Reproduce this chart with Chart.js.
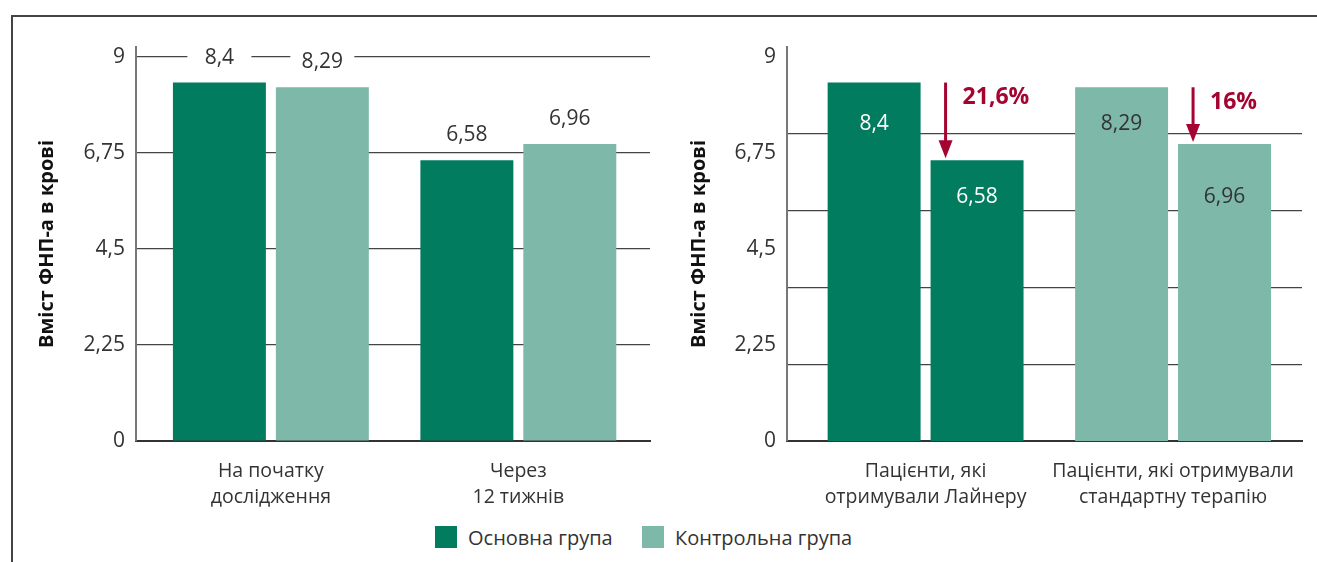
<!DOCTYPE html>
<html>
<head>
<meta charset="utf-8">
<script src="https://cdn.jsdelivr.net/npm/chart.js@4.4.1/dist/chart.umd.min.js"></script>
<style>
  body { margin: 0; background: #fff; width: 1317px; height: 562px; overflow: hidden; position: relative; font-family: "Open Sans", sans-serif; }
  #frame { position: absolute; left: 11px; top: 15px; right: 0; bottom: 0; border-top: 2px solid #444; border-left: 2px solid #444; }
  .box { position: absolute; top: 0; height: 520px; }
  #leftBox { left: 0; width: 660px; }
  #rightBox { left: 660px; width: 657px; }
  .leg { position: absolute; top: 526px; height: 22px; display: flex; align-items: center; font-size: 20px; color: #333; }
  .leg span.sw { width: 22px; height: 22px; margin-right: 11px; display: inline-block; }
</style>
</head>
<body>
<div id="frame"></div>
<div class="box" id="leftBox"><canvas id="leftChart" width="660" height="520"></canvas></div>
<div class="box" id="rightBox"><canvas id="rightChart" width="657" height="520"></canvas></div>
<div class="leg" style="left:435px"><span class="sw" style="background:#017c5f"></span>Основна група</div>
<div class="leg" style="left:642px"><span class="sw" style="background:#7db8a9"></span>Контрольна група</div>
<script>
// Data
const leftCategories = [["На початку", "дослідження"], ["Через", "12 тижнів"]];
const mainGroup = [8.4, 6.58];
const controlGroup = [8.29, 6.96];

const rightCategories = [["Пацієнти, які", "отримували Лайнеру"], ["Пацієнти, які отримували", "стандартну терапію"]];
const beforeValues = [8.4, 8.29];
const afterValues = [6.58, 6.96];
const reductions = ["21,6%", "16%"];

const yTicks = [0, 2.25, 4.5, 6.75, 9];
const axisTitle = "Вміст ФНП-а в крові";

const DARK = "#017c5f";
const LIGHT = "#7db8a9";
const RED = "#a50330";
const FONT = '"Open Sans", sans-serif';
const Y_TOP = 9.234; // axis line runs a little above the top tick

const fmt = (v) => String(v).replace(".", ",");

function yAxis(width, titlePad, showGrid) {
  return {
    min: 0,
    max: Y_TOP,
    afterBuildTicks: (s) => { s.ticks = yTicks.map((v) => ({ value: v })); },
    ticks: { color: "#333", font: { family: FONT, size: 21 }, padding: 11, callback: (v) => fmt(v) },
    grid: { display: showGrid, color: "#444", lineWidth: 1.2, drawTicks: false },
    border: { color: "#777", width: 2 },
    title: { display: true, text: axisTitle, color: "#111", font: { family: FONT, size: 20, weight: "bold" }, padding: { top: titlePad, bottom: 0 } },
    afterFit: (s) => { s.width = width; },
  };
}

// categories sit a bit inside the axis line: start offset and width in category units
function xAxis(startValue, valueRange) {
  return {
    grid: { display: false },
    border: { color: "#333", width: 2 },
    ticks: { color: "#333", font: { family: FONT, size: 19.5, lineHeight: 1.3 }, padding: 10, maxRotation: 0, autoSkip: false },
    afterBuildTicks: (s) => { s._startValue = startValue; s._valueRange = valueRange; },
    afterFit: (s) => { s.height = 79; },
  };
}

// value labels above bars, on white so the gridline is cut
const labelsAbove = {
  id: "labelsAbove",
  afterDatasetsDraw(chart) {
    const ctx = chart.ctx;
    ctx.save();
    ctx.font = "21px " + FONT;
    ctx.textAlign = "center";
    ctx.textBaseline = "middle";
    chart.data.datasets.forEach((ds, i) => {
      chart.getDatasetMeta(i).data.forEach((bar, j) => {
        const y = bar.y - 25;
        ctx.fillStyle = "#fff";
        ctx.fillRect(bar.x - 32, y - 12, 64, 24);
        ctx.fillStyle = "#333";
        ctx.fillText(fmt(ds.data[j]), bar.x, y);
      });
    });
    ctx.restore();
  },
};

// labels inside bars plus reduction arrows
const labelsInside = {
  id: "labelsInside",
  afterDatasetsDraw(chart) {
    const ctx = chart.ctx;
    const ys = chart.scales.y;
    ctx.save();
    ctx.font = "21px " + FONT;
    ctx.textAlign = "center";
    ctx.textBaseline = "middle";
    chart.data.datasets.forEach((ds, i) => {
      const rowY = ys.getPixelForValue(Math.min(...ds.data)) + 37;
      chart.getDatasetMeta(i).data.forEach((bar, j) => {
        ctx.fillStyle = j === 0 ? "#fff" : "#333";
        ctx.fillText(fmt(ds.data[j]), bar.x, rowY);
      });
    });

    const m0 = chart.getDatasetMeta(0);
    const m1 = chart.getDatasetMeta(1);
    m1.data.forEach((bar, j) => {
      const x = bar.x - bar.width / 2 + 15;
      const y0 = m0.data[j].y;
      const y1 = bar.y - 2;
      ctx.strokeStyle = RED;
      ctx.fillStyle = RED;
      ctx.lineWidth = 3;
      ctx.beginPath();
      ctx.moveTo(x, y0);
      ctx.lineTo(x, y1 - 16);
      ctx.stroke();
      ctx.beginPath();
      ctx.moveTo(x - 7, y1 - 18);
      ctx.lineTo(x + 7, y1 - 18);
      ctx.lineTo(x, y1);
      ctx.closePath();
      ctx.fill();
      ctx.font = "bold 23px " + FONT;
      ctx.textAlign = "left";
      ctx.fillText(reductions[j], x + 17, y0 + 15);
    });
    ctx.restore();
  },
};

new Chart(document.getElementById("leftChart"), {
  type: "bar",
  data: {
    labels: leftCategories,
    datasets: [
      { label: "Основна група", data: mainGroup, backgroundColor: DARK },
      { label: "Контрольна група", data: controlGroup, backgroundColor: LIGHT },
    ],
  },
  options: {
    responsive: false,
    animation: false,
    layout: { padding: { top: 47, right: 10, bottom: 0, left: 0 } },
    datasets: { bar: { categoryPercentage: 0.832, barPercentage: 0.903 } },
    plugins: { legend: { display: false }, tooltip: { enabled: false } },
    scales: { x: xAxis(-0.545, 2.077), y: yAxis(136, 35, true) },
  },
  plugins: [labelsAbove],
});

new Chart(document.getElementById("rightChart"), {
  type: "bar",
  data: {
    labels: rightCategories,
    datasets: [
      { label: "До", data: beforeValues, backgroundColor: [DARK, LIGHT] },
      { label: "Після", data: afterValues, backgroundColor: [DARK, LIGHT] },
    ],
  },
  options: {
    responsive: false,
    animation: false,
    layout: { padding: { top: 47, right: 15, bottom: 0, left: 0 } },
    datasets: { bar: { categoryPercentage: 0.832, barPercentage: 0.903 } },
    plugins: { legend: { display: false }, tooltip: { enabled: false } },
    scales: {
      x: xAxis(-0.56, 2.081),
      y: yAxis(127, 27, false),
      // gridlines of the right panel run every 1,8
      yg: {
        position: "right",
        min: 0,
        max: Y_TOP,
        afterBuildTicks: (s) => { s.ticks = s.ticks.filter((t) => t.value <= 9.001); },
        ticks: { display: false, stepSize: 1.8 },
        grid: { color: "#444", lineWidth: 1.2, drawTicks: false },
        border: { display: false },
        afterFit: (s) => { s.width = 0; },
      },
    },
  },
  plugins: [labelsInside],
});
</script>
</body>
</html>
